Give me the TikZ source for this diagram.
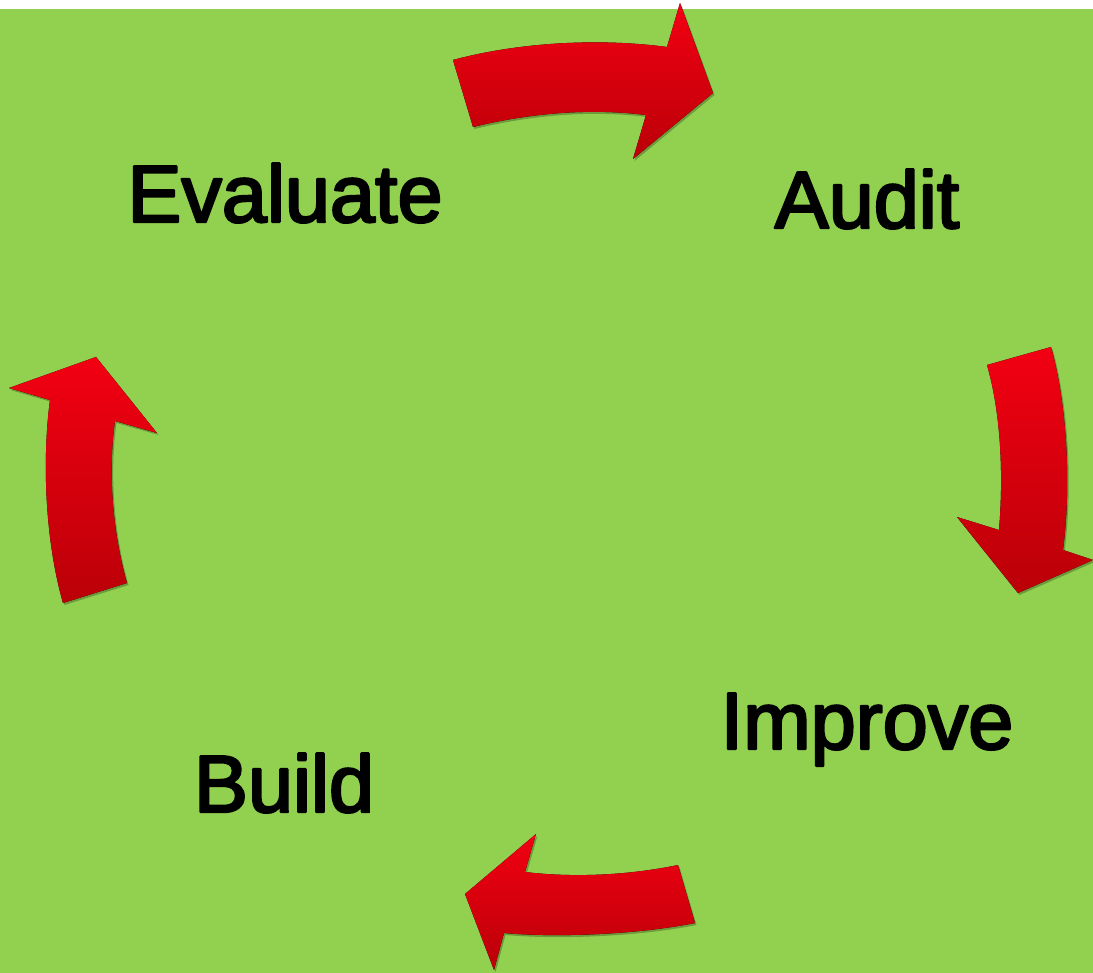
\documentclass[tikz,border=0pt]{standalone}
\usepackage{fontspec}
\setmainfont{Liberation Sans}
\newfontfamily\phasefont[FakeBold=3]{Liberation Sans}
\usepackage{tikz}
\usetikzlibrary{shadows}
\definecolor{leafgreen}{RGB}{146,208,80}
\definecolor{arrowtop}{RGB}{242,0,18}
\definecolor{arrowbottom}{RGB}{186,0,8}
\tikzset{
  cyclearrow/.style={draw=none,top color=arrowtop,bottom color=arrowbottom,
    drop shadow={shadow xshift=1.5pt,shadow yshift=-2pt,opacity=0.25,fill=black}},
  phase/.style={inner sep=0pt,anchor=base,font=\phasefont\fontsize{81}{90}\selectfont}
}
\begin{document}
\begin{tikzpicture}[line cap=round,line join=round,x=1pt,y=-1pt]
\useasboundingbox (0,0) rectangle (1093,973);
\fill[white] (0,0) rectangle (1093,973);
\fill[leafgreen] (0,9) rectangle (1093,973);
\node[phase] (evaluate) at (285,222) {Evaluate};
\node[phase] (audit) at (867,228) {Audit};
\node[phase] (improve) at (867,749) {Improve};
\node[phase] (build) at (284,812) {Build};
\fill[cyclearrow] (453,60) .. controls (520,42) and (600,38) .. (667,47) -- (680,3) -- (713,93) -- (633,159) -- (646,115) .. controls (590,108) and (530,113) .. (473,127) -- cycle;
\fill[cyclearrow] (987,365) -- (1051,347) .. controls (1066,400) and (1072,480) .. (1063,550) -- (1093,560) -- (1018,593) -- (957,517) -- (999,530) .. controls (1004,470) and (1000,410) .. (987,365) -- cycle;
\fill[cyclearrow] (678,865) .. controls (630,875) and (575,878) .. (525,872) -- (536,834) -- (465,894) -- (494,970) -- (504,933) .. controls (560,938) and (640,934) .. (695,923) -- cycle;
\fill[cyclearrow] (63,603) .. controls (45,540) and (42,460) .. (50,400) -- (9,388) -- (96,357) -- (157,433) -- (115,421) .. controls (108,470) and (112,530) .. (127,583) -- cycle;
\end{tikzpicture}
\end{document}
